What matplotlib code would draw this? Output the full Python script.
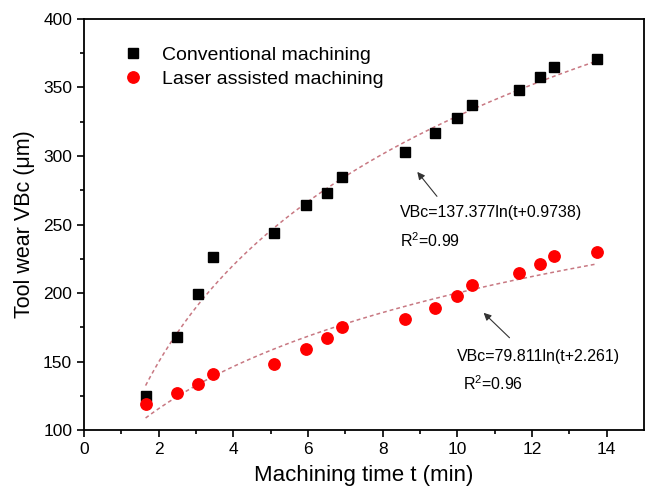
import numpy as np
import matplotlib
matplotlib.use("Agg")
import matplotlib.pyplot as plt

plt.rcParams['font.family'] = ['Liberation Sans', 'DejaVu Sans']
plt.rcParams['mathtext.fontset'] = 'custom'
plt.rcParams['mathtext.rm'] = 'Liberation Sans'
plt.rcParams['mathtext.it'] = 'Liberation Sans'

# machining time (min)
t = [1.65, 2.5, 3.05, 3.45, 5.1, 5.95, 6.5, 6.9, 8.6, 9.4, 10.0, 10.4, 11.65, 12.2, 12.6, 13.75]
# tool wear VBc (um)
vb_conv = [125, 168, 199, 226, 244, 264, 273, 285, 303, 317, 328, 337, 348, 358, 365, 371]
vb_laser = [119, 127, 134, 141, 148, 159, 167, 175, 181, 189, 198, 206, 215, 221, 227, 230]

# fitted curves as stated on the chart: VBc = a*ln(t+b)
fit_conv = (137.377, 0.9738)
fit_laser = (79.811, 2.261)

fig = plt.figure(figsize=(6.46, 4.99), dpi=100)
ax = fig.add_axes([0.130, 0.138, 0.867, 0.824])

tt = np.linspace(min(t), max(t), 200)
fit_col = '#c87882'
ax.plot(tt, fit_conv[0] * np.log(tt + fit_conv[1]), color=fit_col, lw=1.1, ls=(0, (2.5, 2)))
ax.plot(tt, fit_laser[0] * np.log(tt + fit_laser[1]), color=fit_col, lw=1.1, ls=(0, (2.5, 2)))

ax.plot(t, vb_conv, 's', color='black', ms=7.2, label='Conventional machining')
ax.plot(t, vb_laser, 'o', color='#ff0000', ms=8.2, label='Laser assisted machining')

ax.set_xlim(0, 15)
ax.set_ylim(100, 400)
ax.set_xticks(np.arange(0, 15, 2))
ax.set_xticks(np.arange(1, 15, 2), minor=True)
ax.set_yticks(np.arange(100, 401, 50))
ax.set_yticks(np.arange(125, 400, 50), minor=True)
ax.tick_params(which='major', direction='out', length=5, width=1.2, labelsize=12.5, colors='black')
ax.tick_params(which='minor', direction='out', length=3, width=1.2)
for s in ax.spines.values():
    s.set_linewidth(1.3)

ax.set_xlabel('Machining time t (min)', fontsize=16, labelpad=6)
ax.set_ylabel('Tool wear VBc (μm)', fontsize=15.5, labelpad=6)

ax.legend(loc='upper left', bbox_to_anchor=(0.042, 0.967), frameon=False, fontsize=14,
          handletextpad=0.9, borderpad=0.2, labelspacing=0.35, handlelength=1.2)

arw = dict(arrowstyle='-|>', color='#333333', lw=0.8, mutation_scale=11)
ax.annotate('', xy=(8.88, 290), xytext=(9.5, 269), arrowprops=arw)
ax.annotate('', xy=(10.65, 187), xytext=(11.45, 166), arrowprops=arw)
ax.text(8.46, 258.5, 'VBc=137.377ln(t+0.9738)', fontsize=11.5, va='center')
ax.text(8.46, 238.5, 'R$^2$=0.99', fontsize=11.5, va='center')
ax.text(10.0, 153.5, 'VBc=79.811ln(t+2.261)', fontsize=11.5, va='center')
ax.text(10.15, 134, 'R$^2$=0.96', fontsize=11.5, va='center')

fig.savefig('out.png', dpi=100)
